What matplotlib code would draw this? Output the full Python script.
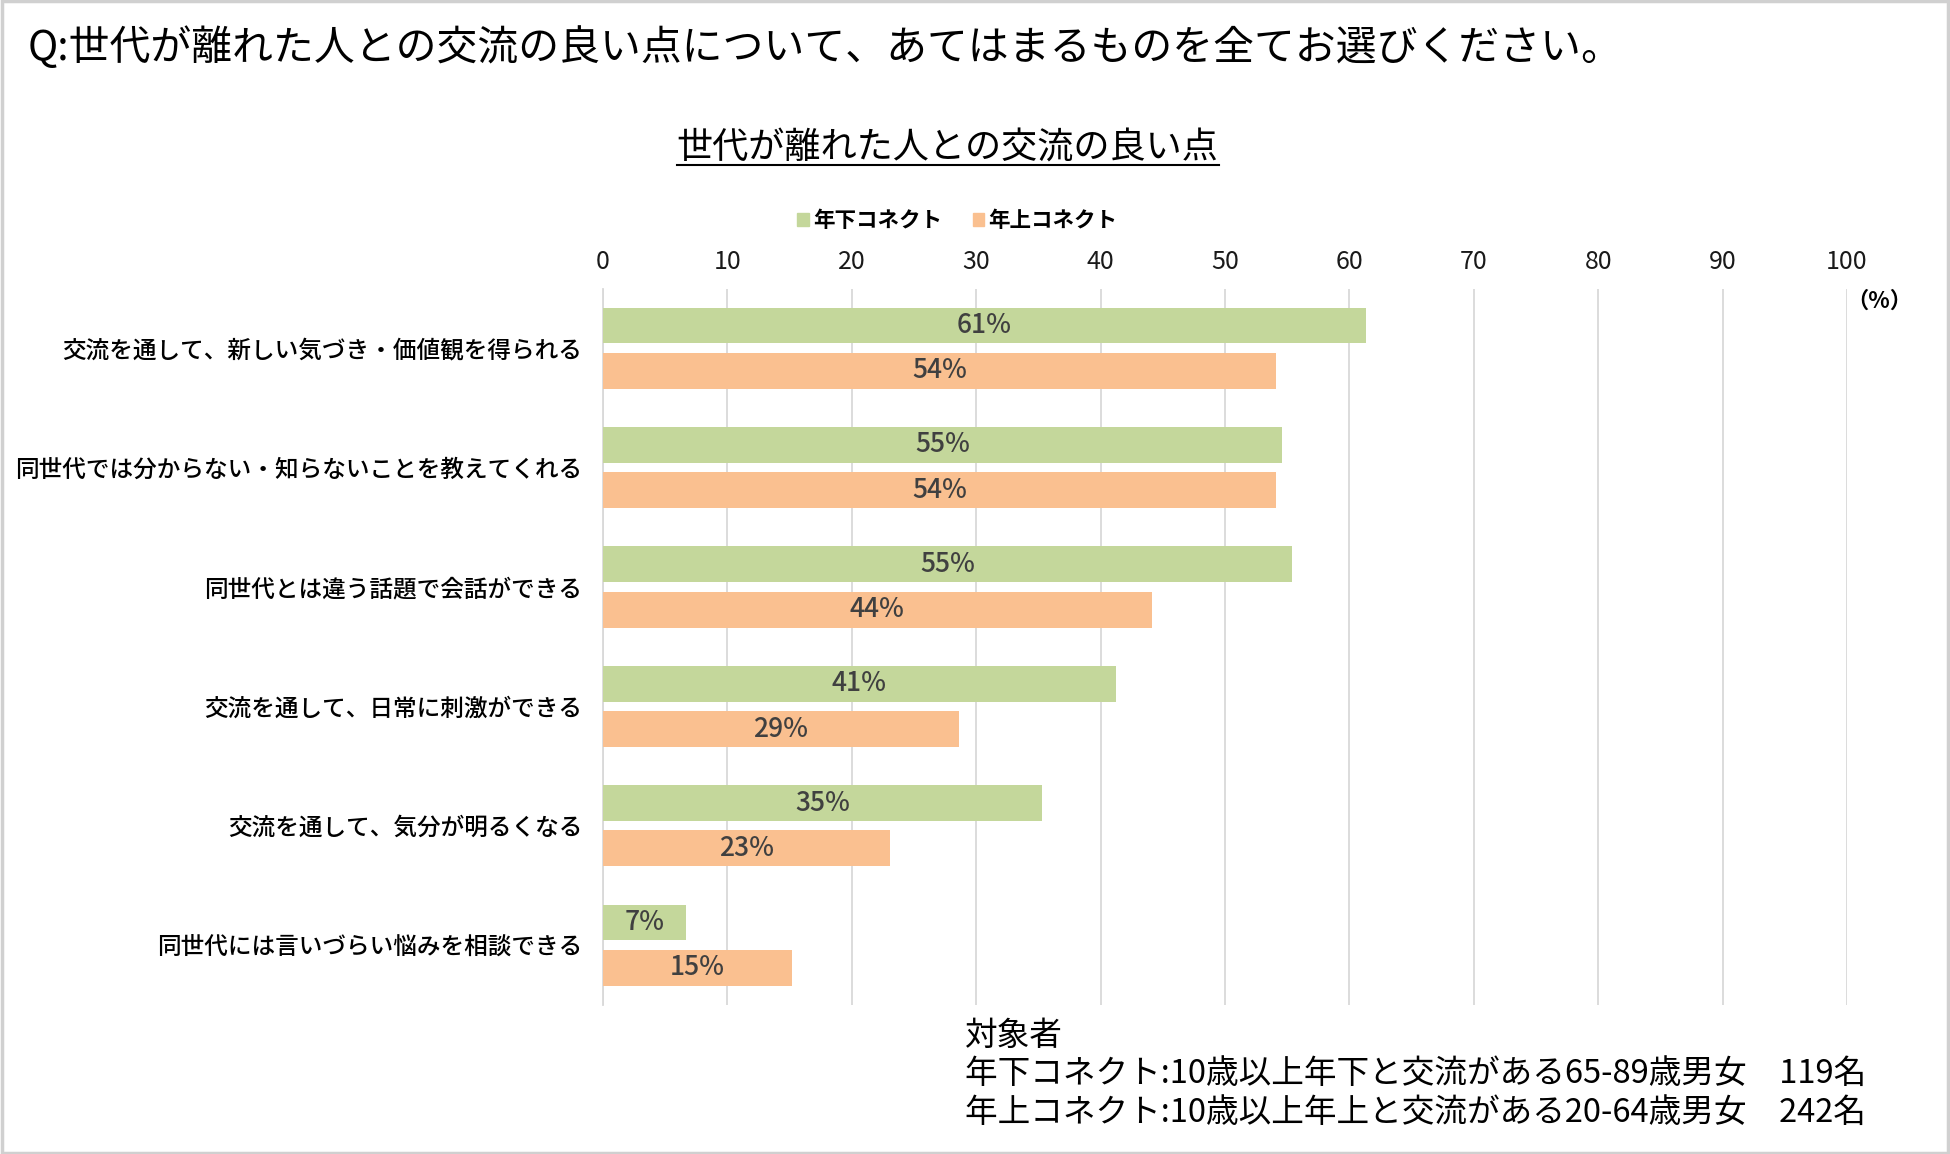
import matplotlib.pyplot as plt
import numpy as np
from matplotlib.patches import Patch, Rectangle
from matplotlib.lines import Line2D

plt.rcParams['font.family'] = ['Noto Sans CJK JP', 'DejaVu Sans']

categories = [
    '交流を通して、新しい気づき・価値観を得られる',
    '同世代では分からない・知らないことを教えてくれる',
    '同世代とは違う話題で会話ができる',
    '交流を通して、日常に刺激ができる',
    '交流を通して、気分が明るくなる',
    '同世代には言いづらい悩みを相談できる',
]
younger = [61.3, 54.6, 55.4, 41.2, 35.3, 6.7]
older = [54.1, 54.1, 44.1, 28.6, 23.1, 15.2]
series_names = ['年下コネクト', '年上コネクト']
xticks = [0, 10, 20, 30, 40, 50, 60, 70, 80, 90, 100]
notes = ['対象者',
         '年下コネクト:10歳以上年下と交流がある65-89歳男女　119名',
         '年上コネクト:10歳以上年上と交流がある20-64歳男女　242名']

green = '#c4d79b'
orange = '#fac090'
grid_col = '#d9d9d9'

fig = plt.figure(figsize=(19.5, 11.54), dpi=100)
ax = fig.add_axes([0.3092, 0.1293, 0.638, 0.6207])

y = np.arange(len(categories))
off = 0.19
h = 0.30
b1 = ax.barh(y - off, younger, height=h, color=green, zorder=3)
b2 = ax.barh(y + off, older, height=h, color=orange, zorder=3)

for bars, vals in ((b1, younger), (b2, older)):
    for bar, v in zip(bars, vals):
        ax.text(v / 2, bar.get_y() + bar.get_height() / 2, f'{v:.0f}%',
                ha='center', va='center', fontsize=19, color='#404040',
                fontweight='medium', zorder=4)

ax.set_xlim(0, 100)
ax.set_ylim(len(categories) - 0.5, -0.5)
ax.set_xticks(xticks)
ax.xaxis.tick_top()
ax.tick_params(axis='x', length=0, pad=10, labelsize=18, labelcolor='#1a1a1a')
ax.set_yticks(y)
ax.set_yticklabels(categories, fontsize=17, fontweight='medium')
ax.tick_params(axis='y', length=0, pad=15)
ax.grid(axis='x', color=grid_col, linewidth=1.3, zorder=0)
for s in ['top', 'right', 'bottom']:
    ax.spines[s].set_visible(False)
ax.spines['left'].set_color(grid_col)
ax.spines['left'].set_linewidth(1.3)

handles = [Patch(color=green), Patch(color=orange)]
fig.legend(handles, series_names, loc='center', bbox_to_anchor=(0.491, 0.809),
           ncol=2, frameon=False, handlelength=0.55, handleheight=0.55,
           handletextpad=0.2, columnspacing=1.4,
           prop={'size': 15.5, 'weight': 'bold'})

fig.text(0.014, 0.959, 'Q:世代が離れた人との交流の良い点について、あてはまるものを全てお選びください。',
         fontsize=29.4, va='center', ha='left')
sub = fig.text(0.486, 0.871, '世代が離れた人との交流の良い点', fontsize=26,
               va='center', ha='center')
fig.text(0.9636, 0.739, '（%）', fontsize=16, ha='center', va='center',
         fontweight='bold')

for line, yy in zip(notes, [0.1024, 0.0690, 0.0356]):
    fig.text(0.495, yy, line, fontsize=23.5, ha='left', va='center')

fig.canvas.draw()
bb = sub.get_window_extent().transformed(fig.transFigure.inverted())
fig.add_artist(Line2D([bb.x0, bb.x1], [bb.y0 + 0.002, bb.y0 + 0.002],
                      transform=fig.transFigure, color='black', linewidth=1.5))

fig.add_artist(Rectangle((0.001, 0.001), 0.998, 0.998, transform=fig.transFigure,
                         fill=False, edgecolor='#d0d0d0', linewidth=2.5))

fig.savefig('out.png', dpi=100)
